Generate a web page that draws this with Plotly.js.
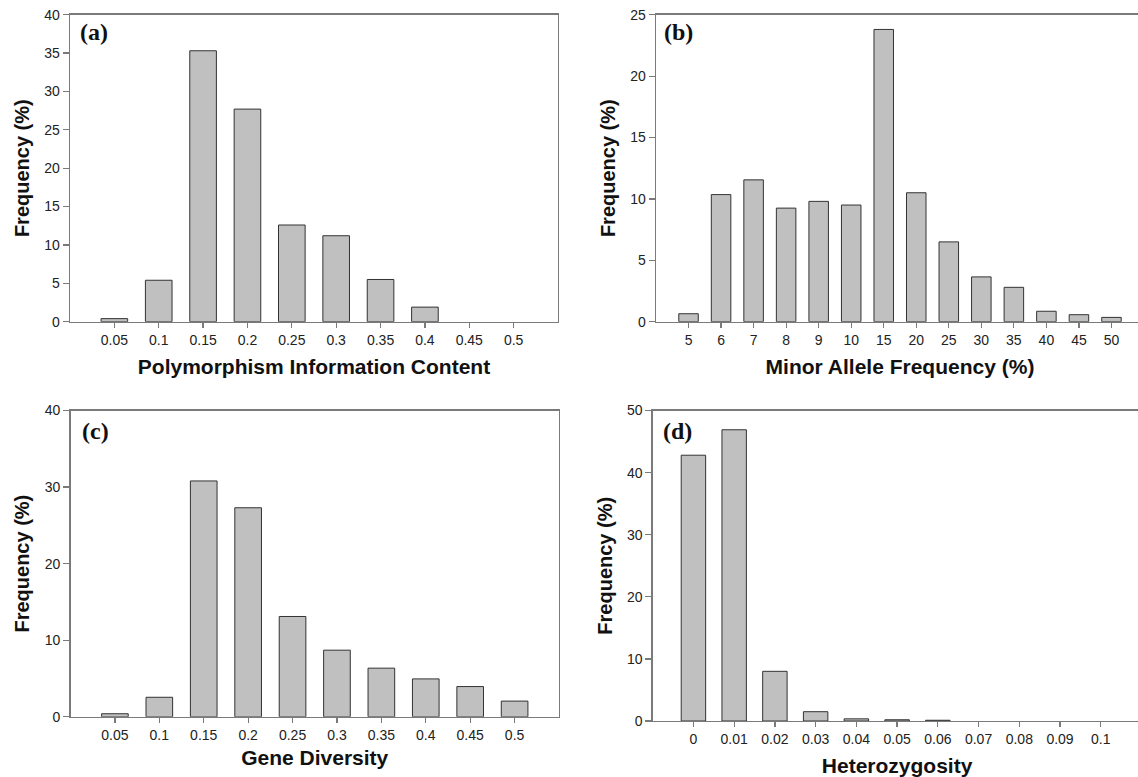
<!DOCTYPE html>
<html>
<head>
<meta charset="utf-8">
<script src="https://cdn.plot.ly/plotly-3.0.1.min.js"></script>
<style>
  html, body { margin: 0; padding: 0; background: #fff; overflow: hidden; }
  #chart { width: 1145px; height: 777px; }
</style>
</head>
<body>
<div id="chart"></div>
<script>
// ---- Data ----
const picLabels = ['0.05', '0.1', '0.15', '0.2', '0.25', '0.3', '0.35', '0.4', '0.45', '0.5'];
const picValues = [0.4, 5.4, 35.3, 27.7, 12.6, 11.2, 5.5, 1.9, 0, 0];

const mafLabels = ['5', '6', '7', '8', '9', '10', '15', '20', '25', '30', '35', '40', '45', '50'];
const mafValues = [0.65, 10.35, 11.55, 9.25, 9.8, 9.5, 23.8, 10.5, 6.5, 3.65, 2.8, 0.85, 0.57, 0.35];

const gdLabels = ['0.05', '0.1', '0.15', '0.2', '0.25', '0.3', '0.35', '0.4', '0.45', '0.5'];
const gdValues = [0.4, 2.55, 30.8, 27.3, 13.1, 8.7, 6.35, 4.95, 3.95, 2.05];

const hetLabels = ['0', '0.01', '0.02', '0.03', '0.04', '0.05', '0.06', '0.07', '0.08', '0.09', '0.1'];
const hetValues = [42.8, 46.9, 8.0, 1.5, 0.35, 0.2, 0.12, 0, 0, 0, 0];

const panelLetters = ['(a)', '(b)', '(c)', '(d)'];
const xTitles = ['Polymorphism Information Content', 'Minor Allele Frequency (%)', 'Gene Diversity', 'Heterozygosity'];
const yTitle = 'Frequency (%)';

// ---- Layout geometry (pixels) ----
const W = 1145, H = 777;
const fx = p => p / W;
const fy = p => 1 - p / H;

function barTrace(labels, values, xa, ya) {
  return { type: 'bar', x: labels, y: values, xaxis: xa, yaxis: ya,
           marker: { color: '#c0c0c0',
                     line: { color: '#333333', width: values.map(v => (v > 0 ? 1 : 0)) } },
           hoverinfo: 'x+y', showlegend: false };
}

const data = [
  barTrace(picLabels, picValues, 'x', 'y'),
  barTrace(mafLabels, mafValues, 'x2', 'y2'),
  barTrace(gdLabels, gdValues, 'x3', 'y3'),
  barTrace(hetLabels, hetValues, 'x4', 'y4')
];

const tickFont = { family: 'Liberation Sans, Arial, sans-serif', size: 14, color: '#222' };
const xTitleFont = { family: 'Liberation Sans, Arial, sans-serif', size: 21, color: '#111', weight: 'bold' };
const yTitleFont = { family: 'Liberation Sans, Arial, sans-serif', size: 20, color: '#111', weight: 'bold' };

function xAxis(domainPx, nCats, title, anchor, standoff) {
  return {
    type: 'category', domain: [fx(domainPx[0]), fx(domainPx[1])], anchor: anchor,
    range: [-1, nCats], showgrid: false, zeroline: false,
    showline: true, linecolor: '#7a7a7a', linewidth: 1.3, mirror: true,
    ticks: 'outside', ticklen: 5, tickcolor: '#7a7a7a', tickwidth: 1.2,
    tickfont: tickFont, automargin: false,
    title: { text: title, font: xTitleFont, standoff: standoff }
  };
}
function yAxis(domainPx, max, dtick, anchor) {
  return {
    domain: [fy(domainPx[1]), fy(domainPx[0])], anchor: anchor,
    range: [0, max], dtick: dtick, tick0: 0, showgrid: false, zeroline: false,
    showline: true, linecolor: '#7a7a7a', linewidth: 1.3, mirror: true,
    ticks: 'outside', ticklen: 6, tickcolor: '#7a7a7a', tickwidth: 1.2,
    tickfont: tickFont, automargin: false,
    title: { text: yTitle, font: yTitleFont, standoff: 9 }
  };
}

const layout = {
  width: W, height: H,
  margin: { l: 0, r: 0, t: 0, b: 0 },
  paper_bgcolor: '#ffffff', plot_bgcolor: '#ffffff',
  bargap: 0.4,
  showlegend: false,
  xaxis:  xAxis([70, 558], picLabels.length, xTitles[0], 'y', 12),
  yaxis:  yAxis([14.7, 321.7], 40, 5, 'x'),
  xaxis2: xAxis([656, 1144], mafLabels.length, xTitles[1], 'y2', 12),
  yaxis2: yAxis([14.7, 321.7], 25, 5, 'x2'),
  xaxis3: xAxis([70.5, 559], gdLabels.length, xTitles[2], 'y3', 8),
  yaxis3: yAxis([410.5, 716.8], 40, 10, 'x3'),
  xaxis4: xAxis([652.7, 1141.5], hetLabels.length, xTitles[3], 'y4', 12),
  yaxis4: yAxis([410.5, 721], 50, 10, 'x4'),
  annotations: [
    [78, 32], [662, 32], [80, 431], [661, 431]
  ].map((p, i) => ({
    text: panelLetters[i], xref: 'paper', yref: 'paper',
    x: fx(p[0]), y: fy(p[1]), xanchor: 'left', yanchor: 'middle',
    showarrow: false,
    font: { family: 'Liberation Serif, Times New Roman, serif', size: 24, color: '#111', weight: 'bold' }
  }))
};

Plotly.newPlot('chart', data, layout, { displayModeBar: false, staticPlot: true });
</script>
</body>
</html>
